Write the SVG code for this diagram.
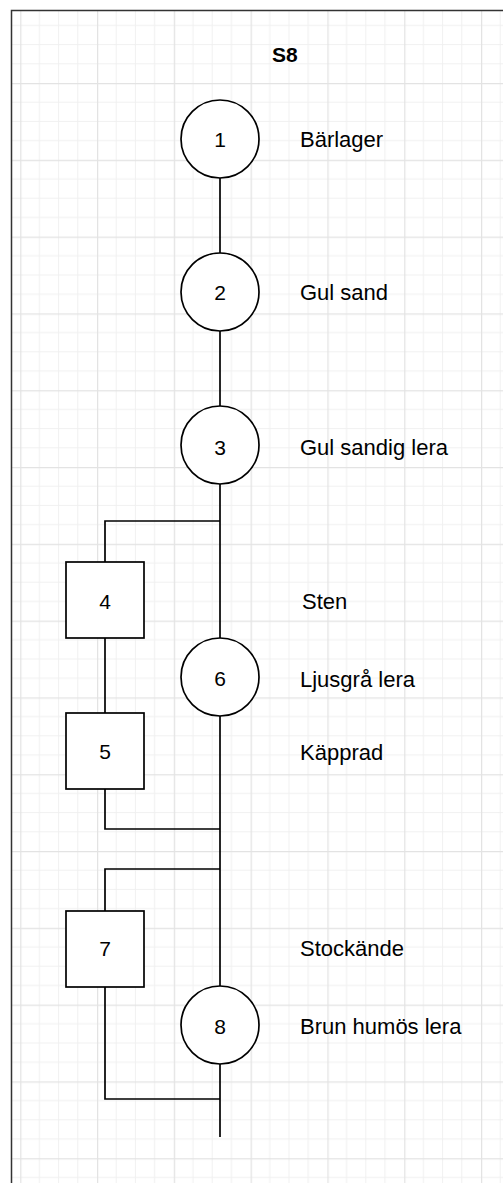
<svg xmlns="http://www.w3.org/2000/svg" width="503" height="1183" viewBox="0 0 503 1183">
  <style>
    .node { fill: #ffffff; stroke: #000000; stroke-width: 1.7; }
    .wire { fill: none; stroke: #000000; stroke-width: 1.7; }
    .num { font-family: "Liberation Sans", Arial, sans-serif; font-size: 21px; fill: #000; text-anchor: middle; }
    .lbl { font-family: "Liberation Sans", Arial, sans-serif; font-size: 22px; fill: #000; }
    .title { font-family: "Liberation Sans", Arial, sans-serif; font-size: 21px; font-weight: bold; fill: #000; }
  </style>
  <defs>
    <!-- paper grid: minor every 19.2, major every 76.8 -->
    <pattern id="grid" patternUnits="userSpaceOnUse" x="20.2" y="6.2" width="76.8" height="76.8">
      <g stroke="#f0f0f0" stroke-width="1">
        <line x1="19.2" y1="0" x2="19.2" y2="76.8"/>
        <line x1="38.4" y1="0" x2="38.4" y2="76.8"/>
        <line x1="57.6" y1="0" x2="57.6" y2="76.8"/>
        <line x1="0" y1="19.2" x2="76.8" y2="19.2"/>
        <line x1="0" y1="38.4" x2="76.8" y2="38.4"/>
        <line x1="0" y1="57.6" x2="76.8" y2="57.6"/>
      </g>
      <g stroke="#e3e3e3" stroke-width="2.5">
        <line x1="0" y1="0" x2="0" y2="76.8"/>
        <line x1="0" y1="0" x2="76.8" y2="0"/>
      </g>
    </pattern>
  </defs>

  <rect x="0" y="0" width="503" height="1183" fill="#ffffff"/>
  <rect x="11" y="10" width="492" height="1173" fill="url(#grid)"/>
  <!-- sheet frame (top and left edges) -->
  <path d="M11.5 1183 V10.5 H503" fill="none" stroke="#333333" stroke-width="1.5"/>

  <text class="title" x="272" y="62">S8</text>

  <g id="connectors">
    <line class="wire" x1="220" y1="178" x2="220" y2="1137"/>
    <polyline class="wire" points="220,521 105,521 105,562"/>
    <line class="wire" x1="105" y1="638" x2="105" y2="713"/>
    <polyline class="wire" points="105,789 105,829 220,829"/>
    <polyline class="wire" points="220,869 105,869 105,911"/>
    <polyline class="wire" points="105,987 105,1099 220,1099"/>
  </g>

  <g id="node-1">
    <circle class="node" cx="220" cy="139" r="39"/>
    <text class="num" x="220" y="147">1</text>
    <text class="lbl" x="300" y="147">Bärlager</text>
  </g>
  <g id="node-2">
    <circle class="node" cx="220" cy="292" r="39"/>
    <text class="num" x="220" y="300">2</text>
    <text class="lbl" x="300" y="300">Gul sand</text>
  </g>
  <g id="node-3">
    <circle class="node" cx="220" cy="445" r="39"/>
    <text class="num" x="220" y="455">3</text>
    <text class="lbl" x="300" y="455">Gul sandig lera</text>
  </g>
  <g id="node-4">
    <rect class="node" x="66" y="562" width="78" height="76"/>
    <text class="num" x="105" y="609">4</text>
    <text class="lbl" x="302" y="609">Sten</text>
  </g>
  <g id="node-6">
    <circle class="node" cx="220" cy="677" r="39"/>
    <text class="num" x="220" y="686">6</text>
    <text class="lbl" x="300" y="687">Ljusgrå lera</text>
  </g>
  <g id="node-5">
    <rect class="node" x="66" y="713" width="78" height="76"/>
    <text class="num" x="105" y="759">5</text>
    <text class="lbl" x="300" y="760">Käpprad</text>
  </g>
  <g id="node-7">
    <rect class="node" x="66" y="911" width="78" height="76"/>
    <text class="num" x="105" y="956">7</text>
    <text class="lbl" x="300" y="956">Stockände</text>
  </g>
  <g id="node-8">
    <circle class="node" cx="220" cy="1025" r="39"/>
    <text class="num" x="220" y="1034">8</text>
    <text class="lbl" x="300" y="1034">Brun humös lera</text>
  </g>
</svg>
